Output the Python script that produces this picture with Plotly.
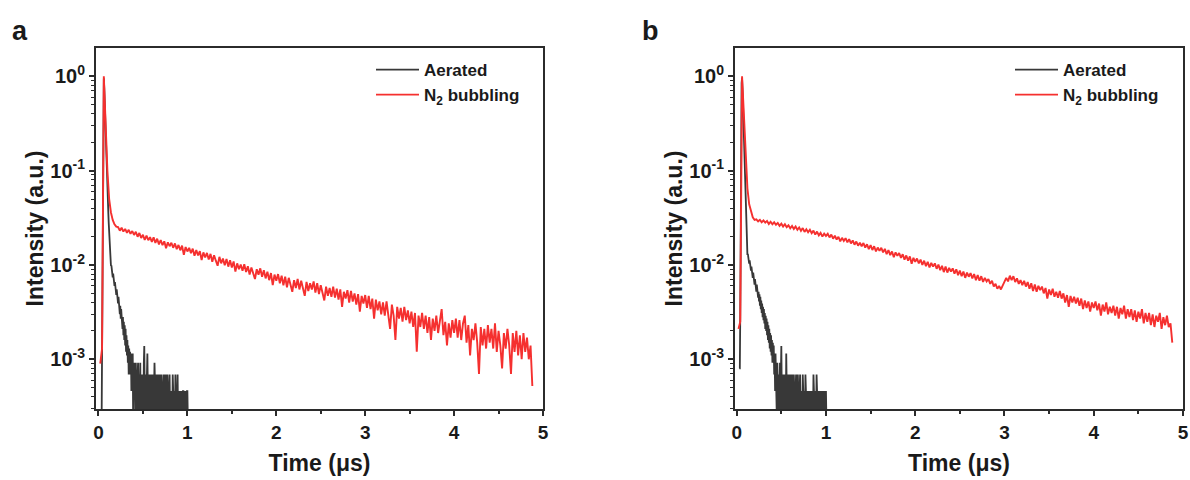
import plotly.graph_objects as go

# ---------------- data ----------------
# Panel a : N2 bubbling (red), sampled from T0_RED_A with step DT_RED
T0_RED_A = 0.02
DT_RED = 0.02
red_a = [
    0.0009, 0.0013, 1.0, 0.25, 0.10, 0.05, 0.036, 0.030, 0.027, 0.0255,
    0.0252, 0.0231, 0.0248, 0.0226, 0.0241, 0.0219, 0.0236, 0.0214, 0.0229, 0.0208,
    0.0225, 0.0199, 0.0218, 0.0193, 0.0209, 0.0184, 0.0205, 0.0183, 0.0197, 0.0176,
    0.0196, 0.0171, 0.0190, 0.0165, 0.0184, 0.0162, 0.0178, 0.0150, 0.0174, 0.0158,
    0.0172, 0.0152, 0.0169, 0.0147, 0.0163, 0.0143, 0.0160, 0.0128, 0.0155, 0.0139,
    0.0152, 0.0133, 0.0149, 0.0125, 0.0144, 0.0126, 0.0140, 0.0113, 0.0136, 0.0120,
    0.0134, 0.0114, 0.0131, 0.0108, 0.0127, 0.0111, 0.0098, 0.0122, 0.0104, 0.0117,
    0.0099, 0.0116, 0.0096, 0.0112, 0.0094, 0.0109, 0.0085, 0.0104, 0.0090, 0.0101,
    0.0087, 0.0102, 0.0084, 0.0097, 0.0079, 0.0094, 0.0082, 0.0071, 0.0090, 0.0079,
    0.0092, 0.0075, 0.0088, 0.0072, 0.0085, 0.0069, 0.0082, 0.0061, 0.0079, 0.0068,
    0.0080, 0.0064, 0.0077, 0.0061, 0.0075, 0.0058, 0.0073, 0.0062, 0.0052, 0.0069,
    0.0057, 0.0071, 0.0055, 0.0068, 0.0058, 0.0047, 0.0066, 0.0053, 0.0064, 0.0055,
    0.0067, 0.0051, 0.0064, 0.0049, 0.0061, 0.0052, 0.0042, 0.0059, 0.0047, 0.0057,
    0.0046, 0.0059, 0.0045, 0.0056, 0.0043, 0.0055, 0.0036, 0.0052, 0.0044, 0.0054,
    0.0040, 0.0053, 0.0041, 0.0050, 0.0038, 0.0049, 0.0032, 0.0047, 0.0039, 0.0048,
    0.0035, 0.0047, 0.0034, 0.0044, 0.0027, 0.0043, 0.0033, 0.0041, 0.0030, 0.0040,
    0.0029, 0.0041, 0.0030, 0.0021, 0.0038, 0.0029, 0.0016, 0.0036, 0.0027, 0.0035,
    0.0025, 0.0036, 0.0026, 0.0033, 0.0024, 0.0032, 0.0022, 0.0031, 0.0012, 0.0029,
    0.0022, 0.0031, 0.0021, 0.0029, 0.0019, 0.0028, 0.0016, 0.0027, 0.0020, 0.0029,
    0.0019, 0.0026, 0.0034, 0.0018, 0.0025, 0.0014, 0.0024, 0.0017, 0.0026, 0.0019,
    0.0027, 0.0017, 0.0026, 0.0016, 0.0024, 0.0029, 0.0015, 0.0023, 0.0011, 0.0021,
    0.0016, 0.0024, 0.0015, 0.0007, 0.0022, 0.0014, 0.0021, 0.0013, 0.0023, 0.0015,
    0.0021, 0.0013, 0.0024, 0.0012, 0.0020, 0.0014, 0.0008, 0.0019, 0.0013, 0.0021,
    0.0014, 0.0007, 0.0019, 0.0012, 0.0020, 0.0011, 0.0018, 0.0010, 0.0019, 0.0012,
    0.0017, 0.0010, 0.0014, 0.00052,
]

# Panel a : Aerated (black), sampled from T0_BLK_A with step DT_BLK
T0_BLK_A = 0.035
DT_BLK = 0.005
black_a = [
    0.0002, 0.0015, 0.02, 0.3, 0.8, 0.95, 0.75, 0.5, 0.33, 0.22,
    0.16, 0.12, 0.095, 0.072, 0.052, 0.037, 0.028, 0.021, 0.0165, 0.0135,
    0.0115, 0.0098, 0.0099, 0.0082, 0.0089, 0.0074, 0.0081, 0.0066, 0.0073, 0.0060,
    0.0066, 0.0052, 0.0061, 0.0048, 0.0055, 0.0043, 0.0050, 0.0039, 0.0046, 0.0034,
    0.0041, 0.0030, 0.0037, 0.0027, 0.0034, 0.0025, 0.0030, 0.0021, 0.0028, 0.0018,
    0.0025, 0.0016, 0.0023, 0.0014, 0.0021, 0.0012, 0.0018, 0.0011, 0.0016, 0.00092,
    0.0014, 0.00069, 0.0013, 0.00092, 0.0012, 0.00069, 0.00115, 0.00046, 0.00092, 0.00069,
    0.00115, 0.00023, 0.00069, 0.00092, 0.00046, 0.00069, 0.00023, 0.00092, 0.00046, 0.00069,
    0.00023, 0.00069, 0.00092, 0.00046, 0.00023, 0.00069, 0.00046, 0.00092, 0.00023, 0.00069,
    0.00046, 0.00023, 0.00069, 0.00046, 0.00023, 0.00092, 0.00138, 0.00046, 0.00023, 0.00069,
    0.00046, 0.00023, 0.00069, 0.00115, 0.00046, 0.00023, 0.00069, 0.00023, 0.00046, 0.00069,
    0.00023, 0.00046, 0.00023, 0.00069, 0.00046, 0.00023, 0.00069, 0.00023, 0.00046, 0.00092,
    0.00023, 0.00046, 0.00023, 0.00069, 0.00023, 0.00046, 0.00023, 0.00069, 0.00046, 0.00023,
    0.00046, 0.00069, 0.00023, 0.00046, 0.00023, 0.00069, 0.00023, 0.00046, 0.00023, 0.00046,
    0.00069, 0.00023, 0.00046, 0.00023, 0.00069, 0.00023, 0.00046, 0.00023, 0.00069, 0.00023,
    0.00046, 0.00023, 0.00046, 0.00069, 0.00023, 0.00046, 0.00023, 0.00023, 0.00046, 0.00023,
    0.00069, 0.00023, 0.00046, 0.00023, 0.00046, 0.00023, 0.00069, 0.00023, 0.00046, 0.00023,
    0.00023, 0.00069, 0.00023, 0.00046, 0.00023, 0.00046, 0.00023, 0.00046, 0.00023, 0.00046,
    0.00023, 0.00046, 0.00023, 0.00046, 0.00046, 0.00023, 0.00046, 0.00023, 0.00046, 0.00023,
    0.00046, 0.00023, 0.00046, 0.00046, 0.00023,
]

# Panel b : N2 bubbling (red)
T0_RED_B = 0.02
red_b = [
    0.0021, 0.0025, 1.0, 0.35, 0.14, 0.065, 0.044, 0.036, 0.032, 0.030,
    0.0305, 0.0290, 0.0301, 0.0284, 0.0296, 0.0281, 0.0293, 0.0272, 0.0287, 0.0270,
    0.0283, 0.0267, 0.0279, 0.0260, 0.0274, 0.0255, 0.0270, 0.0251, 0.0263, 0.0245,
    0.0259, 0.0241, 0.0256, 0.0236, 0.0250, 0.0230, 0.0246, 0.0224, 0.0239, 0.0222,
    0.0236, 0.0217, 0.0231, 0.0210, 0.0226, 0.0206, 0.0219, 0.0200, 0.0215, 0.0203,
    0.0214, 0.0196, 0.0210, 0.0190, 0.0204, 0.0186, 0.0199, 0.0178, 0.0194, 0.0180,
    0.0192, 0.0174, 0.0188, 0.0169, 0.0182, 0.0164, 0.0177, 0.0160, 0.0172, 0.0158,
    0.0171, 0.0153, 0.0166, 0.0147, 0.0162, 0.0144, 0.0158, 0.0139, 0.0153, 0.0141,
    0.0152, 0.0136, 0.0148, 0.0130, 0.0144, 0.0127, 0.0139, 0.0121, 0.0136, 0.0125,
    0.0134, 0.0119, 0.0130, 0.0114, 0.0126, 0.0111, 0.0123, 0.0103, 0.0119, 0.0108,
    0.0117, 0.0104, 0.0114, 0.0100, 0.0111, 0.0097, 0.0108, 0.0094, 0.0105, 0.0096,
    0.0104, 0.0091, 0.0101, 0.0088, 0.0098, 0.0084, 0.0096, 0.0083, 0.0093, 0.0085,
    0.0092, 0.0081, 0.0090, 0.0078, 0.0087, 0.0076, 0.0085, 0.0073, 0.0083, 0.0075,
    0.0082, 0.0072, 0.0080, 0.0069, 0.0078, 0.0068, 0.0076, 0.0066, 0.0073, 0.0067,
    0.0071, 0.0063, 0.0068, 0.0059, 0.0063, 0.0056, 0.0060, 0.0055, 0.0061, 0.0066,
    0.0073, 0.0067, 0.0077, 0.0069, 0.0076, 0.0066, 0.0072, 0.0063, 0.0069, 0.0061,
    0.0068, 0.0059, 0.0066, 0.0056, 0.0064, 0.0053, 0.0062, 0.0052, 0.0060, 0.0054,
    0.0059, 0.0050, 0.0057, 0.0044, 0.0055, 0.0048, 0.0056, 0.0046, 0.0052, 0.0045,
    0.0053, 0.0044, 0.0050, 0.0040, 0.0048, 0.0036, 0.0047, 0.0040, 0.0046, 0.0039,
    0.0045, 0.0037, 0.0044, 0.0034, 0.0042, 0.0035, 0.0041, 0.0032, 0.0040, 0.0035,
    0.0041, 0.0033, 0.0039, 0.0029, 0.0038, 0.0032, 0.0040, 0.0030, 0.0036, 0.0031,
    0.0037, 0.0029, 0.0036, 0.0027, 0.0035, 0.0030, 0.0037, 0.0027, 0.0034, 0.0028,
    0.0034, 0.0026, 0.0033, 0.0025, 0.0032, 0.0027, 0.0034, 0.0024, 0.0031, 0.0025,
    0.0031, 0.0023, 0.0030, 0.0022, 0.0029, 0.0025, 0.0031, 0.0021, 0.0028, 0.0023,
    0.0029, 0.0022, 0.0024, 0.0015,
]

# Panel b : Aerated (black)
T0_BLK_B = 0.03
black_b = [
    0.0008, 0.0008, 0.003, 0.04, 0.4, 0.85, 0.96, 0.8, 0.55, 0.36,
    0.24, 0.16, 0.1, 0.065, 0.042, 0.028, 0.02, 0.0155, 0.0128, 0.0131,
    0.0112, 0.0121, 0.0103, 0.0112, 0.0095, 0.0104, 0.0087, 0.0096, 0.0080, 0.0089,
    0.0073, 0.0083, 0.0068, 0.0075, 0.0062, 0.0071, 0.0058, 0.0066, 0.0052, 0.0062,
    0.0049, 0.0057, 0.0045, 0.0052, 0.0041, 0.0049, 0.0037, 0.0046, 0.0034, 0.0042,
    0.0031, 0.0039, 0.0028, 0.0036, 0.0026, 0.0034, 0.0024, 0.0031, 0.0021, 0.0029,
    0.0020, 0.0027, 0.0018, 0.0025, 0.0016, 0.0023, 0.0015, 0.0021, 0.0013, 0.0019,
    0.0012, 0.0018, 0.0011, 0.0016, 0.00092, 0.0015, 0.00092, 0.0014, 0.00069, 0.00115,
    0.00046, 0.00115, 0.00069, 0.00092, 0.00023, 0.00092, 0.00046, 0.00069, 0.00023, 0.00069,
    0.00046, 0.00092, 0.00023, 0.00069, 0.00138, 0.00046, 0.00023, 0.00069, 0.00046, 0.00023,
    0.00069, 0.00023, 0.00046, 0.00069, 0.00023, 0.00115, 0.00046, 0.00023, 0.00069, 0.00023,
    0.00046, 0.00069, 0.00023, 0.00046, 0.00023, 0.00069, 0.00046, 0.00023, 0.00069, 0.00023,
    0.00046, 0.00023, 0.00069, 0.00023, 0.00046, 0.00023, 0.00046, 0.00069, 0.00023, 0.00046,
    0.00023, 0.00069, 0.00023, 0.00046, 0.00023, 0.00046, 0.00069, 0.00023, 0.00046, 0.00023,
    0.00046, 0.00023, 0.00069, 0.00023, 0.00046, 0.00023, 0.00046, 0.00023, 0.00069, 0.00023,
    0.00046, 0.00023, 0.00046, 0.00023, 0.00046, 0.00023, 0.00046, 0.00023, 0.00023, 0.00046,
    0.00023, 0.00046, 0.00023, 0.00023, 0.00046, 0.00023, 0.00069, 0.00023, 0.00046, 0.00023,
    0.00023, 0.00046, 0.00023, 0.00069, 0.00023, 0.00046, 0.00023, 0.00023, 0.00046, 0.00023,
    0.00046, 0.00023, 0.00023, 0.00046, 0.00023, 0.00046, 0.00023, 0.00023, 0.00046, 0.00023,
    0.00046, 0.00023, 0.00046, 0.00023, 0.00046, 0.00023,
]

SERIES_NAMES = ["Aerated", "N<sub>2</sub> bubbling"]
PANEL_LABELS = ["a", "b"]
X_TICKS = [0, 1, 2, 3, 4, 5]
Y_TICKS = [1e-3, 1e-2, 1e-1, 1.0]
Y_TICK_TEXT = ["10<sup>-3</sup>", "10<sup>-2</sup>", "10<sup>-1</sup>", "10<sup>0</sup>"]
X_TITLE = "Time (μs)"
Y_TITLE = "Intensity (a.u.)"

# ---------------- styling ----------------
W, H = 1190, 480
FONT = "Arial, Liberation Sans, Helvetica, sans-serif"
AX = "#2b2b2b"
TXT = "#1a1a1a"
C_BLACK = "#383838"
C_RED = "#f5302f"

fig = go.Figure()

panels = [
    dict(red=red_a, red_t0=T0_RED_A, blk=black_a, blk_t0=T0_BLK_A, xa="x", ya="y", leg="legend"),
    dict(red=red_b, red_t0=T0_RED_B, blk=black_b, blk_t0=T0_BLK_B, xa="x2", ya="y2", leg="legend2"),
]
for p in panels:
    fig.add_trace(go.Scatter(y=p["blk"], x0=p["blk_t0"], dx=DT_BLK, mode="lines",
                             name=SERIES_NAMES[0], line=dict(color=C_BLACK, width=1.8),
                             xaxis=p["xa"], yaxis=p["ya"], legend=p["leg"]))
    fig.add_trace(go.Scatter(y=p["red"], x0=p["red_t0"], dx=DT_RED, mode="lines",
                             name=SERIES_NAMES[1], line=dict(color=C_RED, width=1.9),
                             xaxis=p["xa"], yaxis=p["ya"], legend=p["leg"]))

minor_y = [k * 10.0 ** e for e in range(-4, 1) for k in range(2, 10)]

def xaxis(domain, x0, anchor):
    return dict(domain=domain, range=[x0, 5.0], anchor=anchor, tickvals=X_TICKS,
                ticks="outside", ticklen=5, tickwidth=2, tickcolor=AX,
                showline=True, linecolor=AX, linewidth=2, mirror=True,
                showgrid=False, zeroline=False, automargin=False,
                tickfont=dict(family=FONT, size=19, color=TXT, weight="bold"),
                minor=dict(ticks="outside", dtick=0.5, ticklen=3, tickwidth=1.5, tickcolor=AX, showgrid=False),
                title=dict(text=X_TITLE, standoff=13,
                           font=dict(family=FONT, size=23, color=TXT, weight="bold")))

def yaxis(domain, anchor):
    return dict(domain=domain, type="log", range=[-3.527, 0.30], anchor=anchor,
                tickvals=Y_TICKS, ticktext=Y_TICK_TEXT,
                ticks="outside", ticklen=5, tickwidth=2, tickcolor=AX,
                showline=True, linecolor=AX, linewidth=2, mirror=True,
                showgrid=False, zeroline=False, automargin=False,
                tickfont=dict(family=FONT, size=20, color=TXT, weight="bold"),
                minor=dict(ticks="outside", tickvals=minor_y, ticklen=3, tickwidth=1.2, tickcolor=AX, showgrid=False),
                title=dict(text=Y_TITLE, standoff=0,
                           font=dict(family=FONT, size=23, color=TXT, weight="bold")))

ydom = [1 - 409 / H, 1 - 48 / H]
legend_style = dict(xanchor="left", yanchor="top", bgcolor="rgba(0,0,0,0)",
                    tracegroupgap=0, itemwidth=43,
                    font=dict(family=FONT, size=17, color=TXT, weight="bold"))
fig.update_layout(
    width=W, height=H, margin=dict(l=0, r=0, t=0, b=0),
    paper_bgcolor="white", plot_bgcolor="white",
    xaxis=xaxis([96 / W, 543 / W], -0.028, "y"),
    yaxis=yaxis(ydom, "x"),
    xaxis2=xaxis([735 / W, 1183 / W], -0.019, "y2"),
    yaxis2=yaxis(ydom, "x2"),
    legend=dict(x=371 / W, y=1 - 52 / H, **legend_style),
    legend2=dict(x=1010 / W, y=1 - 52 / H, **legend_style),
    showlegend=True,
)

for lab, xp in zip(PANEL_LABELS, [10 / W, 640 / W]):
    fig.add_annotation(text=lab, xref="paper", yref="paper", x=xp, y=1 - 14 / H,
                       xanchor="left", yanchor="top", showarrow=False,
                       font=dict(family=FONT, size=27, color=TXT, weight="bold"))

fig.write_html("out.html")
